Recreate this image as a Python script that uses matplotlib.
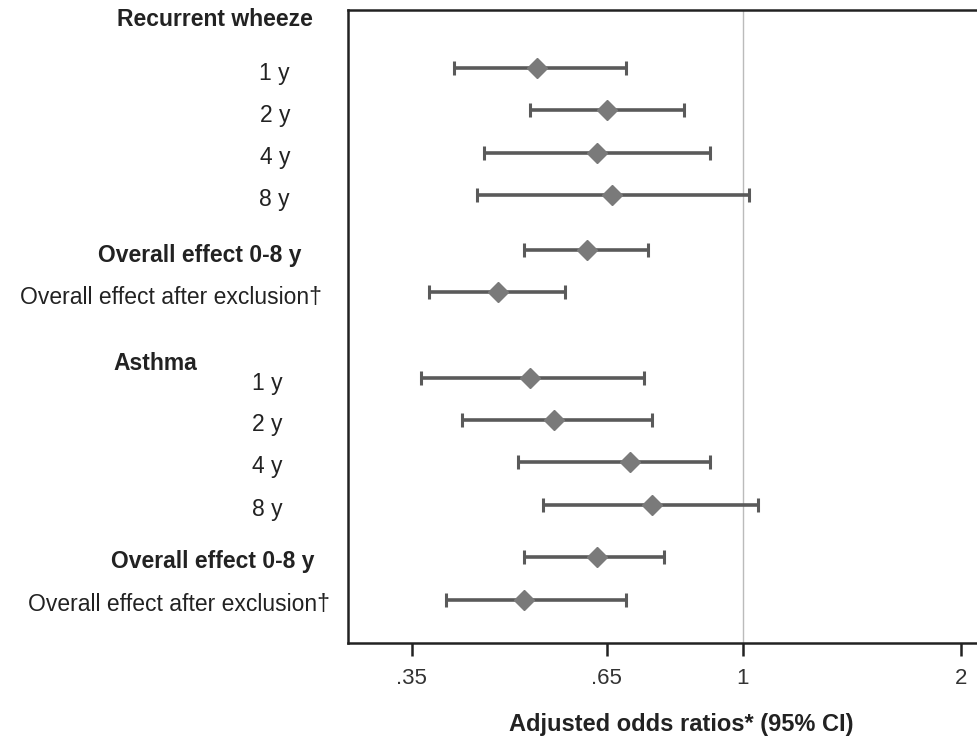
import numpy as np
import matplotlib
matplotlib.use("Agg")
import matplotlib.pyplot as plt
from matplotlib.transforms import blended_transform_factory

plt.rcParams['font.family'] = ['Liberation Sans', 'DejaVu Sans']

# Данные: отношения шансов и 95% ДИ
rw_labels = ["1 y", "2 y", "4 y", "8 y", "Overall effect 0-8 y", "Overall effect after exclusion\u2020"]
rw_or = [0.52, 0.65, 0.63, 0.66, 0.61, 0.46]
rw_lo = [0.40, 0.51, 0.44, 0.43, 0.50, 0.37]
rw_hi = [0.69, 0.83, 0.90, 1.02, 0.74, 0.57]

as_labels = ["1 y", "2 y", "4 y", "8 y", "Overall effect 0-8 y", "Overall effect after exclusion\u2020"]
as_or = [0.51, 0.55, 0.70, 0.75, 0.63, 0.50]
as_lo = [0.36, 0.41, 0.49, 0.53, 0.50, 0.39]
as_hi = [0.73, 0.75, 0.90, 1.05, 0.78, 0.69]

ticks = [0.35, 0.65, 1, 2]
tick_labels = [".35", ".65", "1", "2"]
xlabel = "Adjusted odds ratios* (95% CI)"

# Положение строк (в единицах строк)
rw_y = [0, 1.0, 2.0, 3.0, 4.31, 5.30]
as_y = [7.33, 8.31, 9.31, 10.32, 11.55, 12.57]

W, H = 978, 738
fig = plt.figure(figsize=(W / 100, H / 100), dpi=100)
ax = fig.add_axes([348 / W, (H - 643) / H, 642 / W, 633 / H])
ax.set_xscale("log")
ax.set_xlim(0.286, 2.19)
ax.set_ylim(13.59, -1.37)

ax.axvline(1, color="#bbbbbb", lw=1, zorder=1)


def draw(ors, los, his, ys):
    ors = np.array(ors)
    err = [ors - np.array(los), np.array(his) - ors]
    ax.errorbar(ors, ys, xerr=err, fmt="none", ecolor="#5a5a5a", elinewidth=2.6,
                capsize=5, capthick=2.2, zorder=2)
    ax.plot(ors, ys, linestyle="none", marker="D", markersize=10,
            color="#7a7a7a", markeredgecolor="#7a7a7a", zorder=3)


draw(rw_or, rw_lo, rw_hi, rw_y)
draw(as_or, as_lo, as_hi, as_y)

for s in ["left", "top", "bottom"]:
    ax.spines[s].set_linewidth(1.8)
    ax.spines[s].set_color("#222222")
ax.spines["right"].set_visible(False)

ax.set_yticks([])
ax.set_xticks(ticks)
ax.set_xticklabels(tick_labels)
ax.minorticks_off()
ax.tick_params(axis="x", length=9, width=1.8, color="#222222", pad=9,
               labelsize=16, labelcolor="#333333")

# Подписи строк слева
tr = blended_transform_factory(fig.transFigure, ax.transData)
off = 0.12
fs = 16.5
fig.text(313 / W, 1 - 20 / H, "Recurrent wheeze", ha="right", va="center",
         fontsize=fs, fontweight="bold", color="#222222")
fig.text(197 / W, 1 - 363 / H, "Asthma", ha="right", va="center",
         fontsize=fs, fontweight="bold", color="#222222")

rw_right = [290, 290, 290, 290, 302, 322]
as_right = [283, 283, 283, 283, 315, 330]
for lab, y, r in zip(rw_labels, rw_y, rw_right):
    bold = lab.startswith("Overall effect 0")
    fig.text(r / W, y + off, lab, transform=tr, ha="right", va="center",
             fontsize=fs, fontweight="bold" if bold else "normal", color="#222222")
for lab, y, r in zip(as_labels, as_y, as_right):
    bold = lab.startswith("Overall effect 0")
    fig.text(r / W, y + off, lab, transform=tr, ha="right", va="center",
             fontsize=fs, fontweight="bold" if bold else "normal", color="#222222")

fig.text(681.5 / W, 1 - 725 / H, xlabel, ha="center", va="center",
         fontsize=17, fontweight="bold", color="#222222")

fig.savefig("out.png", dpi=100)
